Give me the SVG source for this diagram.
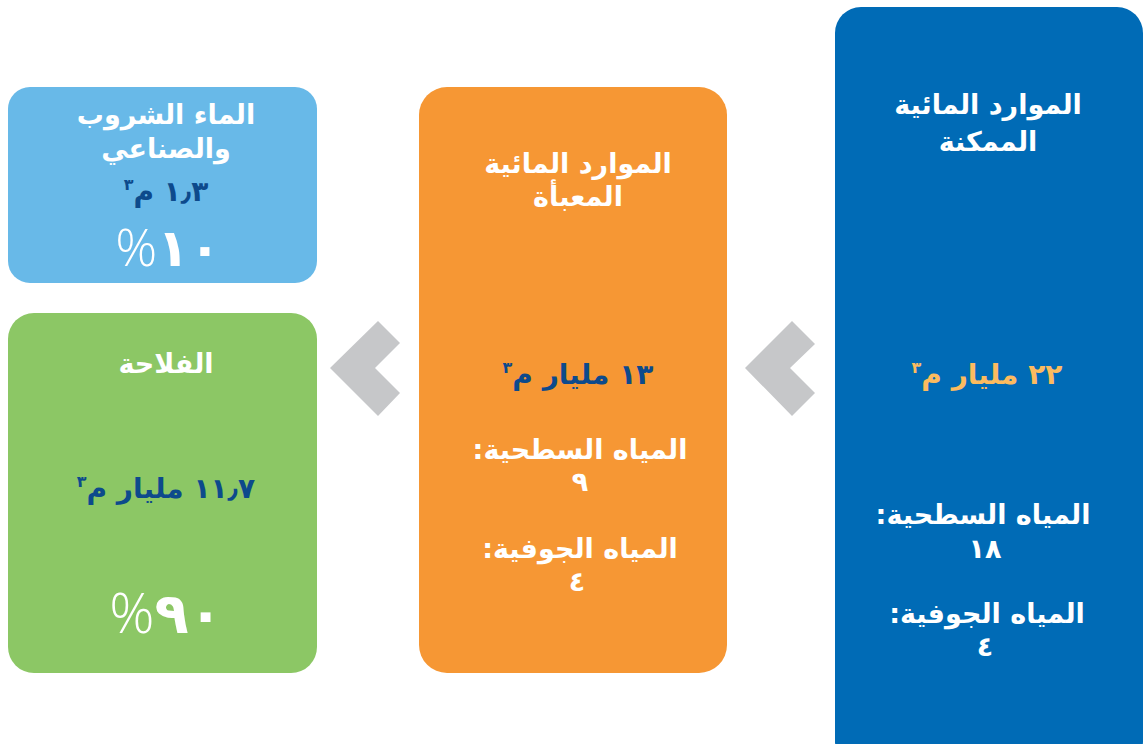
<svg xmlns="http://www.w3.org/2000/svg" width="1143" height="744" viewBox="0 0 1143 744">
<style>
text{font-family:"DejaVu Sans","Noto Sans",sans-serif;font-weight:bold;text-anchor:middle;direction:rtl}
.w{fill:#ffffff}
.t{font-size:27px}
.n{font-size:28px}
.db{fill:#0d4a8c}
.yl{fill:#fcbb5f}
.pct{font-family:"Open Sans","DejaVu Sans",sans-serif;font-weight:300}
.chev{fill:#c6c7c9}
</style>
<rect width="1143" height="744" fill="#ffffff"/>
<g id="connectors">
<polygon class="chev" points="745,368 792,321 815,344 790,368 815,393 792,416"/>
<polygon class="chev" points="330,368 378,321 400,343 375,368 400,393 378,416"/>
</g>
<g id="node-possible">
<rect x="835" y="7" width="308" height="760" rx="26" fill="#006bb6"/>
<text class="w t" x="988" y="114">الموارد المائية</text>
<text class="w t" x="988" y="151">الممكنة</text>
<text class="yl n" x="987" y="384">٢٢ مليار م<tspan font-size="16" dy="-11">٣</tspan></text>
<text class="w t" x="983" y="524">المياه السطحية:</text>
<text class="w t" x="985" y="558">١٨</text>
<text class="w t" x="987" y="623">المياه الجوفية:</text>
<text class="w t" x="985" y="656">٤</text>
</g>
<g id="node-mobilized">
<rect x="419" y="87" width="308" height="586" rx="28" fill="#f69734"/>
<text class="w t" x="578" y="173">الموارد المائية</text>
<text class="w t" x="578" y="206">المعبأة</text>
<text class="db n" x="578" y="384">١٣ مليار م<tspan font-size="16" dy="-11">٣</tspan></text>
<text class="w t" x="580" y="459">المياه السطحية:</text>
<text class="w t" x="580" y="491">٩</text>
<text class="w t" x="580" y="558">المياه الجوفية:</text>
<text class="w t" x="577" y="591">٤</text>
</g>
<g id="node-drinking">
<rect x="8" y="87" width="309" height="196" rx="22" fill="#68b9e8"/>
<text class="w t" x="166" y="124">الماء الشروب</text>
<text class="w t" x="166" y="158">والصناعي</text>
<text class="db n" x="166" y="201">١٫٣ م<tspan font-size="16" dy="-11">٣</tspan></text>
<text class="w" font-size="52" x="168" y="266">١٠<tspan class="pct">%</tspan></text>
</g>
<g id="node-agriculture">
<rect x="8" y="313" width="309" height="360" rx="26" fill="#8cc765"/>
<text class="w t" x="166" y="373">الفلاحة</text>
<text class="db n" x="166" y="498">١١٫٧ مليار م<tspan font-size="16" dy="-11">٣</tspan></text>
<text class="w" font-size="56" x="166" y="633">٩٠<tspan class="pct">%</tspan></text>
</g>
</svg>
